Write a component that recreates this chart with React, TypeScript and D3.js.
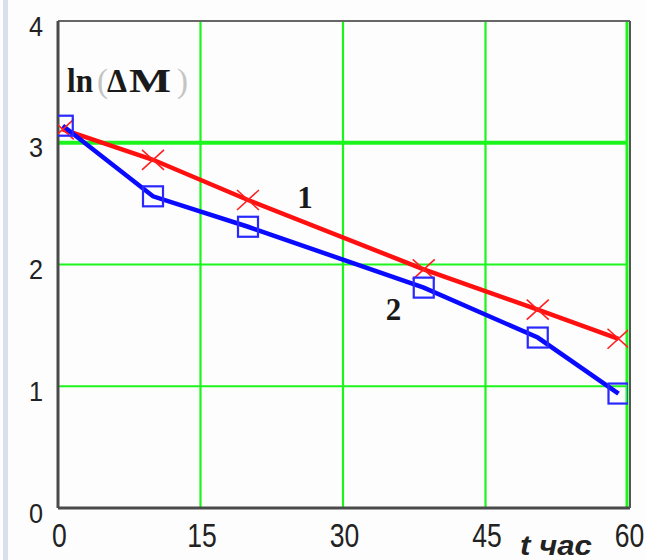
import React from "react";
import * as d3 from "d3";

// t, hours
const hours = [0.5, 10, 20, 38.5, 50.5, 59];
// curve 1 (red, crosses)
const lnDM1 = [3.11, 2.86, 2.53, 1.96, 1.63, 1.39];
// curve 2 (blue, squares)
const lnDM2 = [3.14, 2.56, 2.31, 1.81, 1.4, 0.94];

const xTicks = [0, 15, 30, 45, 60];
const yTicks = [0, 1, 2, 3, 4];

const W = 646;
const H = 560;
const left = 58;
const right = 628;
const top = 21;
const bottom = 508;

const App = () => {
  const x = d3.scaleLinear().domain([0, 60]).range([left, right]);
  const y = d3.scaleLinear().domain([0, 4]).range([bottom, top]);

  const line = d3
    .line<number>()
    .x((d, i) => x(hours[i]))
    .y(d => y(d));

  const pts1 = hours.map((h, i) => [x(h), y(lnDM1[i])]);
  const pts2 = hours.map((h, i) => [x(h), y(lnDM2[i])]);

  return (
    <svg
      width={W}
      height={H}
      style={{ position: "absolute", left: 0, top: 0, display: "block" }}
    >
      <defs>
        <clipPath id="plot">
          <rect x={left} y={top} width={right - left} height={bottom - top} />
        </clipPath>
      </defs>
      <rect width={W} height={H} fill="#fdfdfd" />
      <rect x={3} y={0} width={5} height={H} fill="#d8e0ec" />

      {/* grid */}
      <g stroke="#1cf51c">
        {xTicks.slice(1).map(t => (
          <line key={t} x1={x(t) - (t === 60 ? 1 : 0)} x2={x(t) - (t === 60 ? 1 : 0)} y1={top} y2={bottom} strokeWidth={t === 60 ? 3 : 2.2} />
        ))}
        {yTicks.slice(1, 4).map(t => (
          <line key={t} x1={left} x2={right} y1={y(t)} y2={y(t)} strokeWidth={t === 3 ? 4 : 2.2} />
        ))}
      </g>

      {/* frame */}
      <g stroke="#4a4a4a">
        <line x1={left} x2={right + 2} y1={top} y2={top} strokeWidth={2} stroke="#666" />
        <line x1={left} x2={right + 2} y1={bottom} y2={bottom} strokeWidth={3} />
        <line x1={left} x2={left} y1={top} y2={bottom} strokeWidth={3} />
        <line x1={right + 2} x2={right + 2} y1={top} y2={bottom} strokeWidth={2} stroke="#555" />
      </g>

      <g clipPath="url(#plot)">
        <path d={line(lnDM1) || ""} fill="none" stroke="#ff1010" strokeWidth={4.5} />
        <path d={line(lnDM2) || ""} fill="none" stroke="#0a0aff" strokeWidth={4.5} />
        {pts1.map(([px, py], i) => (
          <path
            key={"a" + i}
            d={`M${px - 11},${py - 10}L${px + 11},${py + 10}M${px - 11},${py + 10}L${px + 11},${py - 10}`}
            stroke="#ff2020"
            strokeWidth={1.6}
            fill="none"
          />
        ))}
        {pts2.map(([px, py], i) => (
          <rect
            key={"b" + i}
            x={px - 10}
            y={py - 10}
            width={20}
            height={20}
            fill="none"
            stroke="#2828ff"
            strokeWidth={2.2}
          />
        ))}
      </g>

      {/* y tick labels */}
      <g fontFamily="Liberation Sans, Arial, sans-serif" fontSize={28} fill="#222">
        {yTicks.map(t => (
          <text key={t} textAnchor="middle" transform={`translate(36,${y(t) + 14.5}) scale(0.9,1)`}>
            {t}
          </text>
        ))}
      </g>
      {/* x tick labels */}
      <g fontFamily="Liberation Sans, Arial, sans-serif" fontSize={34} fill="#222">
        {xTicks.map(t => (
          <text key={t} textAnchor="middle" transform={`translate(${x(t) + 1.5},547) scale(0.78,1)`}>
            {t}
          </text>
        ))}
      </g>

      <text
        x={520}
        y={555}
        fontFamily="Liberation Sans, Arial, sans-serif"
        fontStyle="italic"
        fontWeight="bold"
        fontSize={27}
        textLength={72}
        lengthAdjust="spacingAndGlyphs"
        fill="#222"
      >
        t час
      </text>

      {/* ln(ΔM) label */}
      <g fontFamily="Liberation Serif, Times New Roman, serif" fontSize={33} fill="#1a1a1a">
        <text x={67} y={92} fontWeight="bold" textLength={26} lengthAdjust="spacingAndGlyphs">ln</text>
        <text x={97} y={92} fill="#c4c4c4">(</text>
        <text x={107} y={92} fontWeight="bold" textLength={20} lengthAdjust="spacingAndGlyphs">Δ</text>
        <text x={129} y={92} fontWeight="bold" textLength={42} lengthAdjust="spacingAndGlyphs">M</text>
        <text x={177} y={92} fill="#c4c4c4">)</text>
      </g>

      <g fontFamily="Liberation Serif, Times New Roman, serif" fontWeight="bold" fontSize={31} fill="#1a1a1a" textAnchor="middle">
        <text x={305} y={208}>1</text>
        <text x={393.5} y={320}>2</text>
      </g>
    </svg>
  );
};

export default App;
